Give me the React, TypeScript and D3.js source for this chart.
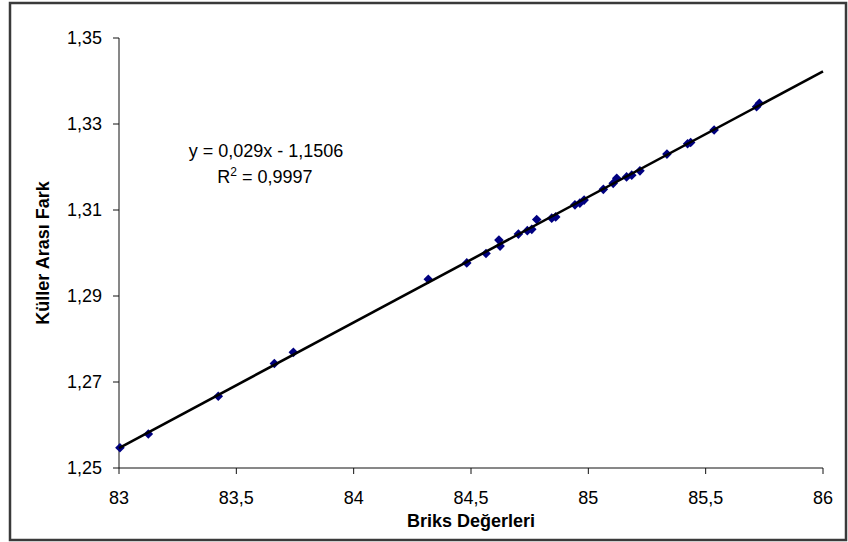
import React from "react";
import * as d3 from "d3";

// Briks (x) vs. difference between ashes (y)
const briks = [
  83.004, 83.125, 83.423, 83.662, 83.743, 84.318, 84.482, 84.564, 84.619, 84.624,
  84.702, 84.74, 84.759, 84.78, 84.844, 84.861, 84.943, 84.964, 84.982, 85.064,
  85.106, 85.121, 85.163, 85.185, 85.22, 85.335, 85.423, 85.436, 85.536, 85.717,
  85.729,
];
const kullerFark = [
  1.2547, 1.2579, 1.2667, 1.2743, 1.2769, 1.2939, 1.2977, 1.2999, 1.303, 1.3016,
  1.3044, 1.3052, 1.3055, 1.3078, 1.3081, 1.3084, 1.3112, 1.3116, 1.3123, 1.3148,
  1.3162, 1.3174, 1.3177, 1.3181, 1.3191, 1.3230, 1.3254, 1.3257, 1.3286, 1.3340,
  1.3348,
];

const xTicks = [83, 83.5, 84, 84.5, 85, 85.5, 86];
const yTicks = [1.25, 1.27, 1.29, 1.31, 1.33, 1.35];
const equationText = "y = 0,029x - 1,1506";
const r2Value = "0,9997";
const xTitle = "Briks Değerleri";
const yTitle = "Küller Arası Fark";

const W = 848;
const H = 542;
const plot = { left: 119, right: 823, top: 38, bottom: 468 };
const fmt = (v: number) => String(v).replace(".", ",");

export default function App() {
  const x = d3.scaleLinear().domain([83, 86]).range([plot.left, plot.right]);
  const y = d3.scaleLinear().domain([1.25, 1.35]).range([plot.bottom, plot.top]);

  // least-squares trendline fitted to the data
  const mx = d3.mean(briks)!;
  const my = d3.mean(kullerFark)!;
  let sxy = 0;
  let sxx = 0;
  briks.forEach((b, i) => {
    sxy += (b - mx) * (kullerFark[i] - my);
    sxx += (b - mx) * (b - mx);
  });
  const slope = sxy / sxx;
  const intercept = my - slope * mx;
  const lineGen = d3
    .line<number>()
    .x((d) => x(d))
    .y((d) => y(slope * d + intercept));

  const font = "Arial, 'Liberation Sans', sans-serif";
  const r = 4.8;

  return (
    <svg
      width={W}
      height={H}
      style={{ position: "absolute", left: 0, top: 0, background: "#fff" }}
      fontFamily={font}
    >
      <rect x={0} y={0} width={W} height={H} fill="#fff" />
      <rect x={10} y={3} width={836} height={537} fill="none" stroke="#3a3a3a" strokeWidth={2.5} />

      {/* axes */}
      <line x1={plot.left} x2={plot.left} y1={plot.top} y2={plot.bottom} stroke="#111" strokeWidth={1} />
      <line x1={plot.left} x2={plot.right} y1={plot.bottom} y2={plot.bottom} stroke="#111" strokeWidth={1} />
      {yTicks.map((t) => (
        <g key={"y" + t}>
          <line x1={plot.left - 6} x2={plot.left} y1={y(t)} y2={y(t)} stroke="#111" />
          <text x={plot.left - 17} y={y(t) + 6} fontSize={18} textAnchor="end" fill="#000">
            {fmt(t)}
          </text>
        </g>
      ))}
      {xTicks.map((t) => (
        <g key={"x" + t}>
          <line x1={x(t)} x2={x(t)} y1={plot.bottom} y2={plot.bottom + 6} stroke="#111" />
          <text x={x(t)} y={504} fontSize={18} textAnchor="middle" fill="#000">
            {fmt(t)}
          </text>
        </g>
      ))}

      {/* markers */}
      {briks.map((b, i) => {
        const cx = x(b);
        const cy = y(kullerFark[i]);
        return (
          <path
            key={i}
            d={`M${cx},${cy - r}L${cx + r},${cy}L${cx},${cy + r}L${cx - r},${cy}Z`}
            fill="#000080"
          />
        );
      })}

      {/* trendline */}
      <path d={lineGen([83, 86]) || ""} fill="none" stroke="#000" strokeWidth={2.6} />

      {/* equation */}
      <text x={266} y={157} fontSize={18} textAnchor="middle" fill="#000">
        {equationText}
      </text>
      <text x={265} y={183} fontSize={18} textAnchor="middle" fill="#000">
        R<tspan fontSize={12} dy={-7}>2</tspan>
        <tspan dy={7}>{" = " + r2Value}</tspan>
      </text>

      {/* titles */}
      <text x={471} y={527} fontSize={18} fontWeight="bold" textAnchor="middle" fill="#000">
        {xTitle}
      </text>
      <text
        transform={`translate(49,${(plot.top + plot.bottom) / 2}) rotate(-90)`}
        fontSize={18}
        fontWeight="bold"
        textAnchor="middle"
        fill="#000"
      >
        {yTitle}
      </text>
    </svg>
  );
}
